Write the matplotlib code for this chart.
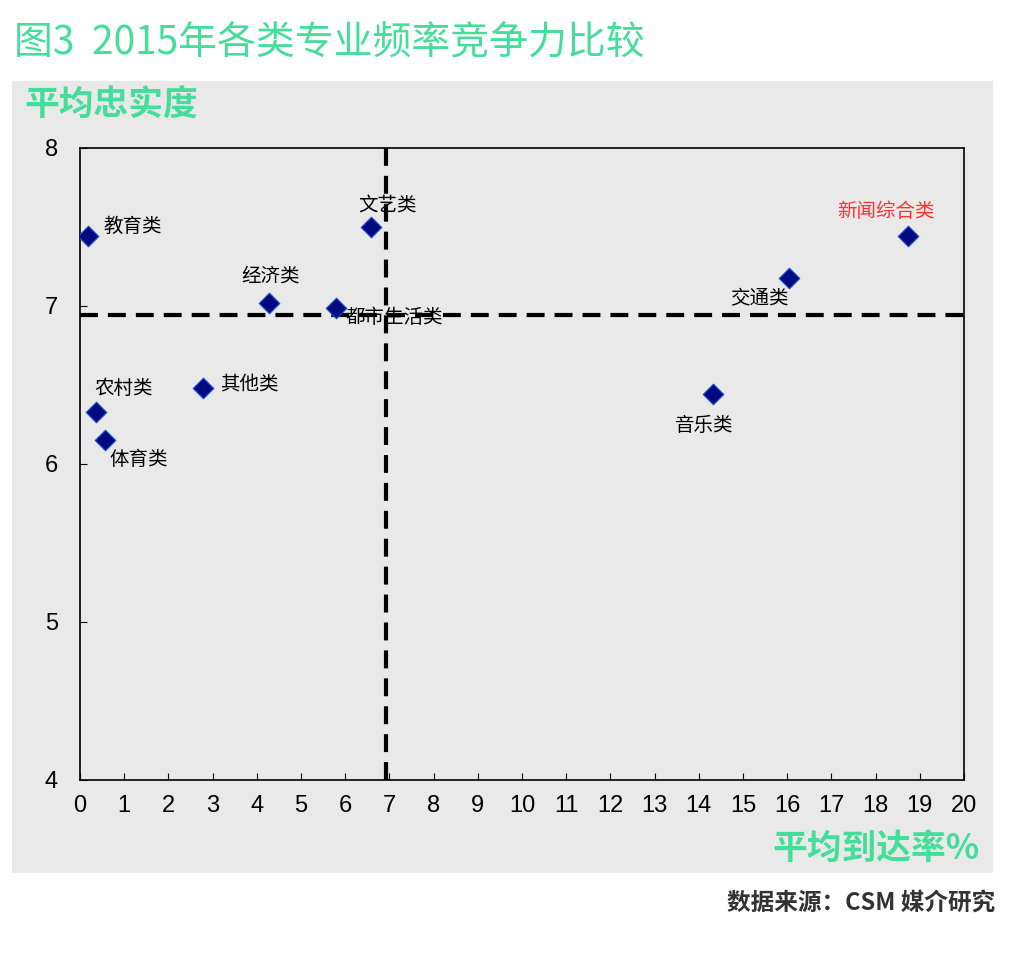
import matplotlib
matplotlib.use("Agg")
import matplotlib.pyplot as plt
from matplotlib.patches import Rectangle

plt.rcParams['font.family'] = ['Noto Sans CJK SC', 'DejaVu Sans']

# --- DATA ---
categories = ["教育类", "文艺类", "经济类", "都市生活类", "其他类",
              "农村类", "体育类", "音乐类", "交通类", "新闻综合类"]
reach = [0.18, 6.59, 4.28, 5.80, 2.79, 0.36, 0.57, 14.31, 16.04, 18.73]      # 平均到达率 %
loyalty = [7.44, 7.50, 7.02, 6.99, 6.48, 6.33, 6.15, 6.44, 7.18, 7.44]     # 平均忠实度
avg_reach = 6.93
avg_loyalty = 6.94
x_ticks = list(range(0, 21))
y_ticks = [4, 5, 6, 7, 8]

GREEN = "#44dd99"
PANEL = "#e9e9e9"
TICK_FONT = ['Liberation Sans Narrow', 'Liberation Sans', 'DejaVu Sans']

# label offsets in points (dx, dy, ha)
label_pos = {
    "教育类": (11, 7, "left"),
    "文艺类": (12, 16, "center"),
    "经济类": (1, 19, "center"),
    "都市生活类": (7, -7, "left"),
    "其他类": (12, 2, "left"),
    "农村类": (-1, 17, "left"),
    "体育类": (3, -14, "left"),
    "音乐类": (-6, -22, "center"),
    "交通类": (-21, -15, "center"),
    "新闻综合类": (-16, 18, "center"),
}

fig = plt.figure(figsize=(10.32, 9.64), dpi=100)
fig.patch.set_facecolor("white")

# gray panel behind the chart
fig.patches.append(Rectangle((12 / 1032, 1 - 873 / 964), (993 - 12) / 1032, (873 - 81) / 964,
                             transform=fig.transFigure, facecolor=PANEL, edgecolor="none", zorder=-5))

ax = fig.add_axes([80 / 1032, 1 - 780 / 964, (964 - 80) / 1032, (780 - 148) / 964])
ax.set_zorder(2)
ax.set_facecolor(PANEL)
ax.set_xlim(0, 20)
ax.set_ylim(4, 8)
ax.set_xticks(x_ticks)
ax.set_yticks(y_ticks)
ax.tick_params(direction="in", length=5, width=0.8, pad=11)
ax.tick_params(axis="y", pad=16)
for lab in ax.get_xticklabels() + ax.get_yticklabels():
    lab.set_family(TICK_FONT)
    lab.set_fontsize(17)
for s in ax.spines.values():
    s.set_linewidth(1.2)
    s.set_color("black")

ax.axvline(avg_reach, color="black", lw=3, ls=(0, (4.3, 2.4)), zorder=2)
ax.axhline(avg_loyalty, color="black", lw=3, ls=(0, (4.3, 2.4)), zorder=2)

ax.scatter(reach, loyalty, marker="D", s=110, color="#000a80", edgecolors="#1a4fd0",
           linewidths=0.8, zorder=3)

for name, x, y in zip(categories, reach, loyalty):
    dx, dy, ha = label_pos[name]
    color = "#ff3030" if name == "新闻综合类" else "black"
    ax.annotate(name, (x, y), xytext=(dx, dy), textcoords="offset points",
                ha=ha, va="center", fontsize=14, color=color, zorder=4)

fig.text(14 / 1032, 1 - 43 / 964, "图3  2015年各类专业频率竞争力比较", color=GREEN,
         fontsize=28, ha="left", va="center")
fig.text(24 / 1032, 1 - 104 / 964, "平均忠实度", color=GREEN, fontsize=25,
         fontweight="bold", ha="left", va="center")
fig.text(980 / 1032, 1 - 848 / 964, "平均到达率%", color=GREEN, fontsize=25,
         fontweight="bold", ha="right", va="center")
fig.text(995 / 1032, 1 - 903 / 964, "数据来源：CSM 媒介研究", color="#333333", fontsize=17,
         fontweight="bold", ha="right", va="center")

fig.savefig("out.png", dpi=100, facecolor="white")
